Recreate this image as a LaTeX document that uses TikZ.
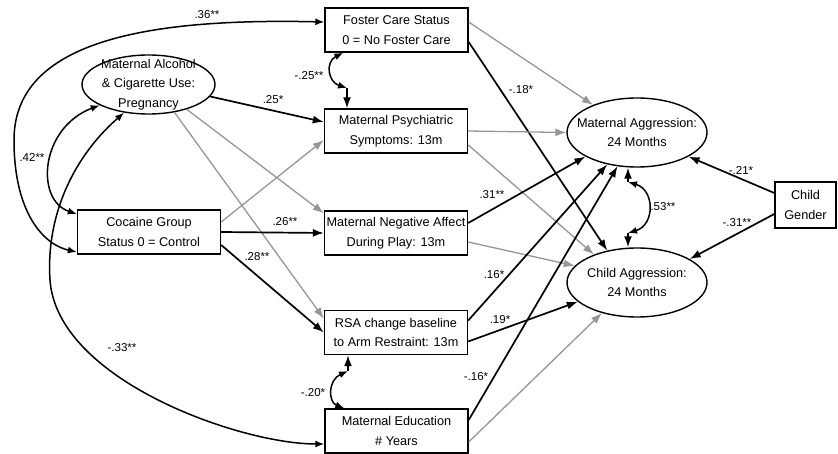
\documentclass[tikz,border=0pt]{standalone}
\usepackage{fontspec}
\setmainfont{Liberation Sans}
\usetikzlibrary{arrows.meta, shapes.geometric, calc}

\begin{document}
\begin{tikzpicture}[x=1pt, y=-1pt,
  box/.style={rectangle, draw, line width=1.4pt, minimum width=143pt, minimum height=44pt,
    inner sep=0pt, align=center, font=\fontsize{12.7}{19.5}\selectfont},
  latent/.style={ellipse, draw, line width=1.4pt, inner xsep=-12pt, inner ysep=-8pt,
    align=center, font=\fontsize{12.7}{19.5}\selectfont},
  sig/.style={line width=1.7pt, -{Latex[length=11pt, width=8pt]}},
  ns/.style={line width=1.3pt, draw=nsgray, -{Latex[length=11pt, width=8pt]}},
  cov/.style={line width=1.5pt, {Latex[length=9pt, width=7pt]}-{Latex[length=9pt, width=7pt]}},
  coef/.style={font=\fontsize{11.5}{12}\selectfont, inner sep=1pt}]
  % Define colors
  \definecolor{nsgray}{RGB}{150,150,150}
  \useasboundingbox (0,0) rectangle (838,454);

  % Exogenous variables
  \node[latent, minimum width=133pt, minimum height=59pt] (alc) at (148.5,84.5) {Maternal Alcohol\\\& Cigarette Use:\\Pregnancy};
  \node[box] (cocaine) at (149,232) {Cocaine Group\\Status 0 = Control};
  \node[box, minimum width=61pt, minimum height=46pt] (gender) at (805.5,205) {Child\\Gender};

  % Middle column
  \node[box] (foster) at (396.5,30) {Foster Care Status\\0 = No Foster Care};
  \node[box] (psych) at (396,131) {Maternal Psychiatric\\Symptoms: 13m};
  \node[box] (negaff) at (396,233) {Maternal Negative Affect\\During Play: 13m};
  \node[box] (rsa) at (396,332.5) {RSA change baseline\\to Arm Restraint: 13m};
  \node[box] (edu) at (396.5,431) {Maternal Education\\\# Years};

  % Outcomes
  \node[latent, minimum width=140pt, minimum height=69pt] (ma) at (637,132.5) {Maternal Aggression:\\24 Months};
  \node[latent, minimum width=140pt, minimum height=69pt] (ca) at (637,282.5) {Child Aggression:\\24 Months};

  % Kinks of the short correlation arcs
  \coordinate (k1) at (347,88);
  \coordinate (k2) at (348,371);
  \coordinate (k3) at (628,182);
  \coordinate (k4) at (628,233);

  % Correlations
  \draw[cov] ([yshift=8pt]foster.west) .. controls (150,18) and (14,40) .. (14,140)
    .. controls (14,215) and (45,245) .. ([yshift=-20pt]cocaine.west);
  \draw[cov] (alc.203) .. controls (40,128) and (35,200) .. ([yshift=18pt]cocaine.west);
  \draw[cov] (alc.229) .. controls (70,160) and (46,220) .. (50,280)
    .. controls (57,380) and (240,444) .. ([yshift=-13pt]edu.west);
  \draw[cov] ([xshift=19pt]foster.south west) .. controls (325,62) and (328,82) .. (k1);
  \draw[sig] (k1) -- (k1 |- psych.north);
  \draw[sig] (k2) -- (k2 |- rsa.south);
  \draw[cov] (k2) .. controls (328,380) and (328,402) .. ([xshift=20pt]edu.north west);
  \draw[sig] (k3) -- (k3 |- ma.south);
  \draw[sig] (k4) -- (k4 |- ca.north);
  \draw[cov] (k3) .. controls (655,190) and (655,225) .. (k4);

  % Paths to the middle column
  \draw[sig] (alc.-11) -- ([yshift=9pt]psych.west);
  \draw[ns] (alc.-33) -- ([yshift=-3pt]negaff.north west);
  \draw[ns] (alc.-47) -- ([yshift=14pt]rsa.west);
  \draw[ns] ([yshift=10pt]cocaine.east) -- ([yshift=-9pt]psych.west);
  \draw[sig] (cocaine.east) -- (negaff.west);
  \draw[sig] ([yshift=-13pt]cocaine.east) -- (rsa.west);

  % Paths to the outcomes
  \draw[ns] ([yshift=8pt]foster.east) -- (ma.148);
  \draw[sig] ([yshift=-12pt]foster.east) -- (ca.133);
  \draw[ns] (psych.east) -- (ma.west);
  \draw[ns] ([yshift=-14pt]psych.east) -- (ca.147);
  \draw[sig] ([yshift=10pt]negaff.east) -- (ma.205);
  \draw[ns] ([yshift=-9pt]negaff.east) -- (ca.165);
  \draw[sig] ([yshift=12pt]rsa.east) -- (ma.227);
  \draw[sig] ([yshift=-9pt]rsa.east) -- (ca.198);
  \draw[sig] ([yshift=11pt]edu.east) -- (ma.240);
  \draw[ns] ([yshift=-11pt]edu.east) -- (ca.221);
  \draw[sig] ([yshift=12pt]gender.west) -- (ma.-25);
  \draw[sig] ([yshift=-9pt]gender.west) -- (ca.24);

  % Coefficients
  \node[coef] (c36) at (207,15) {.36**};
  \node[coef] (c42) at (32,157) {.42**};
  \node[coef] (c25) at (273,100) {.25*};
  \node[coef] (c25n) at (309,76) {-.25**};
  \node[coef] (c26) at (285,222) {.26**};
  \node[coef] (c28) at (257,257) {.28**};
  \node[coef] (c33) at (122,348) {-.33**};
  \node[coef] (c20) at (313,393) {-.20*};
  \node[coef] (c18) at (521,90) {-.18*};
  \node[coef] (c31) at (492,195) {.31**};
  \node[coef] (c16) at (494,275) {.16*};
  \node[coef] (c19) at (500,320) {.19*};
  \node[coef] (c16n) at (476,377) {-.16*};
  \node[coef] (c53) at (663,207) {.53**};
  \node[coef] (c21) at (741,170) {-.21*};
  \node[coef] (c31n) at (737,223) {-.31**};
\end{tikzpicture}
\end{document}
